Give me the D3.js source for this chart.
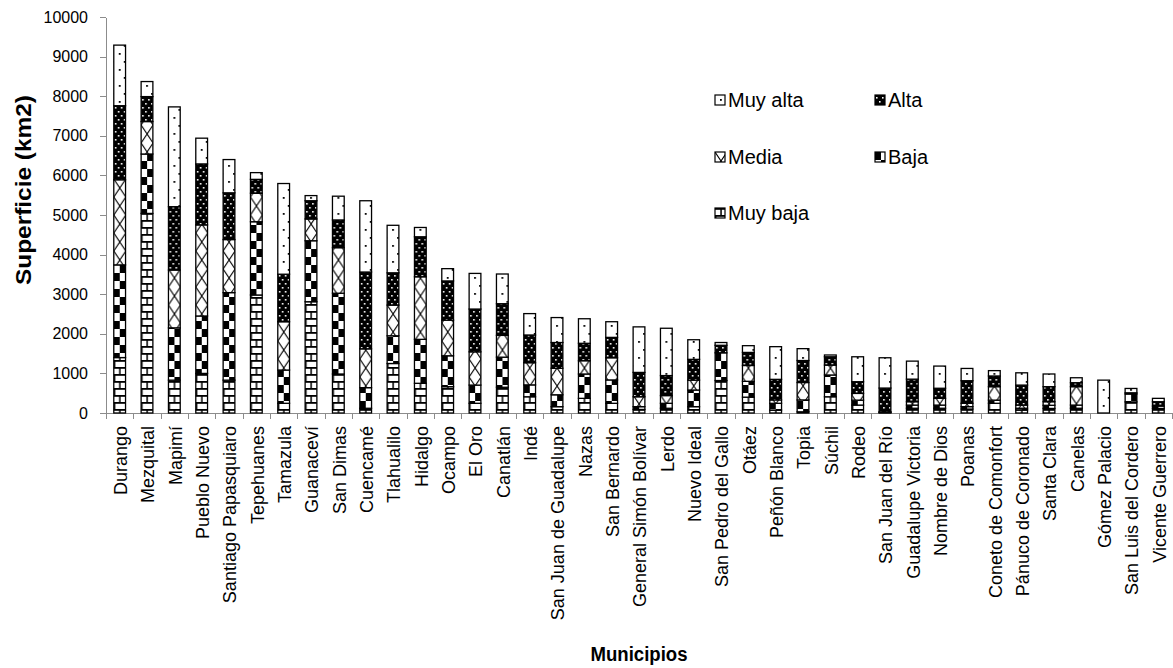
<!doctype html>
<html lang="es">
  <head>
    <meta charset="UTF-8" />
    <title>Superficie por municipio</title>
    <script src="https://d3js.org/d3.v7.min.js"></script>
    <style>
      body {
        margin: 0;
        background: #fff;
        font-family: 'Liberation Sans', Arial, sans-serif;
      }
      .axis path,
      .axis line {
        stroke: #8c8c8c;
        shape-rendering: crispEdges;
      }
      .axis text {
        fill: #000;
      }
    </style>
  </head>
  <body>
    <svg id="chart" width="1173" height="668"></svg>
    <script>
      // Municipios (orden del eje x)
      const municipios = [
        'Durango', 'Mezquital', 'Mapimí', 'Pueblo Nuevo', 'Santiago Papasquiaro', 'Tepehuanes',
        'Tamazula', 'Guanaceví', 'San Dimas', 'Cuencamé', 'Tlahualilo', 'Hidalgo', 'Ocampo',
        'El Oro', 'Canatlán', 'Indé', 'San Juan de Guadalupe', 'Nazas', 'San Bernardo',
        'General Simón Bolívar', 'Lerdo', 'Nuevo Ideal', 'San Pedro del Gallo', 'Otáez',
        'Peñón Blanco', 'Topia', 'Súchil', 'Rodeo', 'San Juan del Río', 'Guadalupe Victoria',
        'Nombre de Dios', 'Poanas', 'Coneto de Comonfort', 'Pánuco de Coronado', 'Santa Clara',
        'Canelas', 'Gómez Palacio', 'San Luis del Cordero', 'Vicente Guerrero'
      ]

      // superficie (km2) por categoría
      const muyBaja = [1400, 5040, 830, 1000, 830, 2980, 245, 2810, 985, 120, 1250, 750, 665, 245, 650, 410, 160, 370, 245, 90, 120, 160, 820, 400, 75, 30, 410, 200, 10, 120, 120, 100, 245, 80, 115, 120, 0, 280, 115]
      const baja = [2340, 1500, 1320, 1450, 2210, 1850, 840, 1540, 2040, 520, 700, 1110, 780, 460, 760, 300, 300, 615, 590, 70, 125, 420, 700, 400, 170, 300, 550, 125, 10, 80, 80, 60, 80, 40, 80, 80, 0, 200, 60]
      const media = [2150, 820, 1460, 2300, 1340, 720, 1220, 550, 1150, 980, 775, 1580, 900, 840, 550, 560, 670, 335, 560, 250, 195, 250, 0, 400, 85, 440, 250, 170, 10, 85, 170, 85, 340, 80, 90, 465, 0, 0, 0]
      const alta = [1870, 630, 1600, 1540, 1180, 350, 1200, 460, 700, 1940, 815, 1010, 990, 1080, 800, 700, 650, 440, 515, 615, 505, 525, 190, 330, 520, 555, 210, 295, 600, 570, 255, 570, 270, 505, 380, 100, 0, 30, 110]
      const muyAlta = [1530, 380, 2520, 650, 840, 170, 2290, 130, 600, 1800, 1200, 235, 310, 900, 750, 540, 630, 620, 395, 1150, 1195, 495, 70, 170, 825, 300, 45, 630, 765, 455, 560, 310, 135, 310, 320, 125, 830, 110, 85]

      const yTicks = [0, 1000, 2000, 3000, 4000, 5000, 6000, 7000, 8000, 9000, 10000]

      // series, from bottom of the stack upwards
      const series = [
        { key: 'Muy baja', values: muyBaja, pat: 'p-muybaja' },
        { key: 'Baja', values: baja, pat: 'p-baja' },
        { key: 'Media', values: media, pat: 'p-media' },
        { key: 'Alta', values: alta, pat: 'p-alta' },
        { key: 'Muy alta', values: muyAlta, pat: 'p-muyalta' },
      ]

      const rows = municipios.map((m, i) => {
        const r = { municipio: m }
        series.forEach((s) => (r[s.key] = s.values[i]))
        return r
      })

      const svg = d3.select('#chart')
      const margin = { top: 17, right: 1, bottom: 255, left: 106 }
      const width = 1173 - margin.left - margin.right
      const height = 668 - margin.top - margin.bottom

      // patterns (approximating the Excel fills)
      const defs = svg.append('defs')
      function pattern(id, w, h) {
        const p = defs.append('pattern').attr('id', id).attr('patternUnits', 'userSpaceOnUse')
          .attr('width', w).attr('height', h)
        return p
      }
      let p = pattern('p-muyalta', 12, 16)
      p.append('rect').attr('width', 12).attr('height', 16).attr('fill', '#fff')
      p.append('rect').attr('x', 5).attr('y', 4).attr('width', 1.8).attr('height', 1.8).attr('fill', '#000')
      p.append('rect').attr('x', 10).attr('y', 12).attr('width', 1.8).attr('height', 1.8).attr('fill', '#000')

      p = pattern('p-alta', 6, 8)
      p.append('rect').attr('width', 6).attr('height', 8).attr('fill', '#000')
      p.append('rect').attr('x', 1).attr('y', 2).attr('width', 1.6).attr('height', 1.6).attr('fill', '#fff')
      p.append('rect').attr('x', 4).attr('y', 6).attr('width', 1.6).attr('height', 1.6).attr('fill', '#fff')

      p = pattern('p-media', 12, 18)
      p.append('rect').attr('width', 12).attr('height', 18).attr('fill', '#fff')
      p.append('path').attr('d', 'M0,0L12,18M12,0L0,18').attr('stroke', '#000').attr('stroke-width', 1.1)

      p = pattern('p-baja', 12, 16)
      p.append('rect').attr('width', 12).attr('height', 16).attr('fill', '#fff')
      p.append('rect').attr('x', 0).attr('y', 0).attr('width', 6).attr('height', 8).attr('fill', '#000')
      p.append('rect').attr('x', 6).attr('y', 8).attr('width', 6).attr('height', 8).attr('fill', '#000')

      p = pattern('p-muybaja', 12, 14)
      p.append('rect').attr('width', 12).attr('height', 14).attr('fill', '#fff')
      p.append('rect').attr('x', 0).attr('y', 0).attr('width', 12).attr('height', 1.8).attr('fill', '#000')
      p.append('rect').attr('x', 0).attr('y', 7).attr('width', 12).attr('height', 1.8).attr('fill', '#000')
      p.append('rect').attr('x', 5.3).attr('y', 0).attr('width', 1.5).attr('height', 7).attr('fill', '#000')
      p.append('rect').attr('x', 0).attr('y', 7).attr('width', 1.5).attr('height', 7).attr('fill', '#000')

      const g = svg.append('g').attr('transform', `translate(${margin.left},${margin.top})`)

      const x = d3.scaleBand().domain(municipios).range([0, width]).paddingInner(0.57).paddingOuter(0.285)
      const xEdge = d3.scaleLinear().domain([0, municipios.length]).range([0, width])
      const y = d3.scaleLinear().domain([0, 10000]).range([height, 0])

      // y axis
      const yAxis = g.append('g').attr('class', 'axis')
        .call(d3.axisLeft(y).tickValues(yTicks).tickFormat(d3.format('d')).tickSize(6).tickSizeOuter(0).tickPadding(12))
      yAxis.selectAll('text').style('font-size', '16px')

      // x axis: ticks between categories
      g.append('g').attr('class', 'axis').attr('transform', `translate(0,${height})`)
        .call(d3.axisBottom(xEdge).tickValues(d3.range(municipios.length + 1)).tickFormat('').tickSize(6).tickSizeOuter(0))

      const xAxis = g.append('g').attr('class', 'axis').attr('transform', `translate(0,${height})`)
        .call(d3.axisBottom(x).tickSize(0).tickPadding(0))
      xAxis.select('.domain').remove()
      xAxis.selectAll('text')
        .style('font-size', '18px')
        .attr('text-anchor', 'end')
        .attr('transform', 'translate(1,13) rotate(-90)')
        .attr('y', 0)
        .attr('x', 0)
        .attr('dy', '0.35em')

      // stacked bars
      const stack = d3.stack().keys(series.map((s) => s.key))(rows)
      const bars = g.selectAll('.bar').data(rows).enter().append('g')
        .attr('class', 'bar')
        .attr('transform', (d) => `translate(${x(d.municipio)},0)`)

      stack.forEach((layer, li) => {
        bars.append('rect')
          .datum((d, i) => layer[i])
          .filter((d) => d[1] - d[0] > 0)
          .attr('x', 0)
          .attr('y', (d) => y(d[1]))
          .attr('width', x.bandwidth())
          .attr('height', (d) => y(d[0]) - y(d[1]))
          .attr('fill', `url(#${series[li].pat})`)
          .attr('stroke', '#000')
          .attr('stroke-width', 1.3)
      })

      // axis titles
      g.append('text')
        .attr('transform', `translate(${-83},${y(5000) - 25}) rotate(-90)`)
        .attr('text-anchor', 'middle')
        .attr('dy', '0.35em')
        .style('font-size', '22px')
        .style('font-weight', 'bold')
        .attr('textLength', 190)
        .attr('lengthAdjust', 'spacingAndGlyphs')
        .text('Superficie (km2)')

      svg.append('text')
        .attr('x', margin.left + width / 2)
        .attr('y', 661)
        .attr('text-anchor', 'middle')
        .style('font-size', '20px')
        .style('font-weight', 'bold')
        .attr('textLength', 97)
        .attr('lengthAdjust', 'spacingAndGlyphs')
        .text('Municipios')

      // legend
      const legendItems = [
        { key: 'Muy alta', pat: 'p-muyalta', x: 715, y: 95 },
        { key: 'Alta', pat: 'p-alta', x: 875, y: 95 },
        { key: 'Media', pat: 'p-media', x: 715, y: 152 },
        { key: 'Baja', pat: 'p-baja', x: 875, y: 152 },
        { key: 'Muy baja', pat: 'p-muybaja', x: 715, y: 208 },
      ]
      const legend = svg.append('g').selectAll('g').data(legendItems).enter().append('g')
        .attr('transform', (d) => `translate(${d.x},${d.y})`)
      legend.append('rect')
        .attr('width', 10).attr('height', 10)
        .attr('fill', (d) => `url(#${d.pat})`)
        .attr('stroke', '#000').attr('stroke-width', 1.2)
      legend.append('text')
        .attr('x', 13).attr('y', 11.5)
        .style('font-size', '20px')
        .text((d) => d.key)
    </script>
  </body>
</html>
